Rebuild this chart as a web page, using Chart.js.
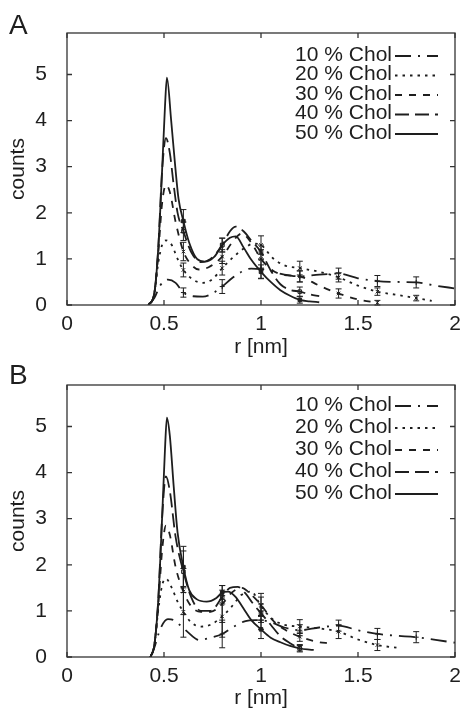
<!DOCTYPE html>
<html>
<head>
<meta charset="utf-8">
<script src="https://cdn.jsdelivr.net/npm/chart.js@4.4.1/dist/chart.umd.min.js"></script>
<style>
  html, body { margin: 0; padding: 0; background: #fff; }
  #wrap { position: relative; width: 460px; height: 708px; overflow: hidden; }
  canvas { position: absolute; left: 0; }
</style>
</head>
<body>
<div id="wrap">
  <canvas id="chartA" width="460" height="370" style="top:0"></canvas>
  <canvas id="chartB" width="460" height="354" style="top:354px"></canvas>
</div>
<script>
// tick labels and series names
var xTicks = [0, 0.5, 1, 1.5, 2];
var yTicks = [0, 1, 2, 3, 4, 5];
var seriesNames = ['10 % Chol', '20 % Chol', '30 % Chol', '40 % Chol', '50 % Chol'];

// ---- panel A : r [nm] / counts ----
var rA10 = [0.42,0.45,0.48,0.52,0.56,0.60,0.65,0.70,0.75,0.80,0.85,0.90,0.95,1.00,1.06,1.12,1.20,1.30,1.40,1.50,1.60,1.70,1.80,1.90,2.00];
var gA10 = [0,0.15,0.42,0.55,0.48,0.27,0.19,0.18,0.25,0.40,0.58,0.72,0.79,0.78,0.72,0.66,0.62,0.66,0.68,0.58,0.52,0.50,0.49,0.42,0.36];
var rA20 = [0.42,0.45,0.47,0.49,0.51,0.54,0.57,0.60,0.65,0.70,0.75,0.80,0.86,0.92,0.96,1.00,1.06,1.12,1.20,1.30,1.40,1.50,1.60,1.70,1.80,1.88];
var gA20 = [0,0.25,0.9,1.3,1.4,1.3,1.0,0.76,0.55,0.48,0.56,0.80,1.05,1.25,1.33,1.30,1.02,0.86,0.80,0.72,0.60,0.42,0.29,0.22,0.15,0.09];
var rA30 = [0.42,0.45,0.47,0.49,0.51,0.53,0.56,0.60,0.64,0.68,0.73,0.80,0.85,0.90,0.95,1.00,1.06,1.12,1.20,1.30,1.40,1.50,1.60];
var gA30 = [0,0.25,1.1,2.2,2.6,2.45,1.8,1.16,0.88,0.77,0.82,1.05,1.35,1.55,1.35,1.0,0.75,0.65,0.62,0.42,0.25,0.12,0.05];
var rA40 = [0.42,0.45,0.47,0.49,0.51,0.53,0.55,0.57,0.60,0.64,0.69,0.74,0.80,0.84,0.87,0.91,0.95,1.00,1.05,1.10,1.15,1.20,1.25,1.30];
var gA40 = [0,0.25,1.2,2.9,3.62,3.3,2.6,2.0,1.6,1.15,0.93,1.0,1.3,1.6,1.7,1.6,1.4,1.15,0.75,0.45,0.33,0.29,0.23,0.19];
var rA50 = [0.42,0.45,0.47,0.49,0.505,0.515,0.537,0.558,0.575,0.60,0.63,0.67,0.71,0.76,0.80,0.84,0.87,0.91,0.95,1.00,1.05,1.10,1.15,1.20,1.25,1.30];
var gA50 = [0,0.25,1.2,2.9,4.3,4.93,4.0,3.0,2.3,1.82,1.35,1.0,0.94,1.05,1.3,1.46,1.49,1.25,0.98,0.72,0.5,0.32,0.2,0.11,0.08,0.06];
// error bars A (positions, half heights)
var ebA10x = [0.6,0.8,1.0,1.2,1.4,1.6,1.8],  ebA10e = [0.1,0.15,0.2,0.12,0.12,0.12,0.12];
var ebA20x = [0.6,0.8,1.0,1.2,1.4,1.6,1.8],  ebA20e = [0.15,0.15,0.2,0.15,0.1,0.08,0.06];
var ebA30x = [0.6,0.8,1.0,1.2,1.4,1.6],      ebA30e = [0.2,0.15,0.2,0.12,0.1,0.05];
var ebA40x = [0.6,0.8,1.0,1.2],              ebA40e = [0.2,0.15,0.15,0.1];
var ebA50x = [0.6,0.8,1.0,1.2],              ebA50e = [0.25,0.15,0.15,0.07];

// ---- panel B ----
var rB10 = [0.43,0.45,0.48,0.52,0.55,0.58,0.62,0.68,0.74,0.80,0.86,0.92,0.97,1.00,1.06,1.12,1.20,1.30,1.40,1.50,1.60,1.70,1.80,1.90,2.00];
var gB10 = [0,0.2,0.6,0.82,0.8,0.7,0.55,0.37,0.42,0.5,0.66,0.78,0.8,0.8,0.74,0.64,0.58,0.64,0.68,0.58,0.5,0.46,0.43,0.37,0.31];
var rB20 = [0.43,0.45,0.47,0.49,0.51,0.54,0.57,0.60,0.64,0.69,0.74,0.80,0.85,0.90,0.95,1.00,1.06,1.12,1.20,1.30,1.40,1.50,1.60,1.70];
var gB20 = [0,0.25,1.0,1.55,1.7,1.5,1.2,0.98,0.75,0.66,0.7,0.88,1.1,1.35,1.42,1.1,0.82,0.7,0.66,0.62,0.55,0.38,0.26,0.2];
var rB30 = [0.43,0.45,0.47,0.49,0.51,0.53,0.56,0.60,0.64,0.69,0.74,0.80,0.85,0.90,0.95,1.00,1.06,1.12,1.20,1.30,1.35];
var gB30 = [0,0.25,1.1,2.3,2.85,2.65,1.95,1.42,1.1,0.98,0.98,1.15,1.4,1.5,1.35,1.13,0.8,0.6,0.44,0.32,0.3];
var rB40 = [0.43,0.45,0.47,0.49,0.51,0.53,0.56,0.60,0.64,0.69,0.74,0.80,0.84,0.88,0.92,0.96,1.00,1.05,1.10,1.15,1.20,1.25,1.30];
var gB40 = [0,0.25,1.2,3.0,3.92,3.6,2.6,1.85,1.3,1.0,1.0,1.3,1.5,1.52,1.38,1.15,0.95,0.7,0.45,0.3,0.19,0.16,0.15];
var rB50 = [0.43,0.45,0.47,0.49,0.505,0.515,0.53,0.55,0.57,0.60,0.63,0.67,0.72,0.77,0.80,0.83,0.87,0.91,0.95,1.00,1.05,1.10,1.15,1.20];
var gB50 = [0,0.25,1.2,3.0,4.5,5.19,4.8,3.7,2.7,1.95,1.45,1.25,1.2,1.28,1.4,1.42,1.3,1.05,0.8,0.6,0.42,0.32,0.24,0.19];
var ebB10x = [0.8,1.0,1.2,1.4,1.6,1.8],  ebB10e = [0.3,0.2,0.12,0.12,0.12,0.12];
var ebB20x = [0.6,0.8,1.0,1.2,1.4,1.6],  ebB20e = [0.55,0.45,0.2,0.15,0.15,0.12];
var ebB30x = [0.6,0.8,1.0,1.2],          ebB30e = [0.5,0.4,0.25,0.1];
var ebB40x = [0.6,0.8,1.0,1.2],          ebB40e = [0.45,0.15,0.2,0.08];
var ebB50x = [0.6,0.8,1.0,1.2],          ebB50e = [0.45,0.15,0.2,0.06];

var FONT = "'Liberation Sans', Arial, sans-serif";
var INK = '#1e1e1e';
var dashes = [[16, 7, 2, 7], [2.5, 5], [7, 7], [14, 6], []];
var markers = ['cross', 'crossRot', 'crossRot', 'rect', 'rect'];

function pts(r, g) {
  return r.map(function (x, i) { return {x: x, y: g[i]}; });
}
function ebPts(ex, ee, r, g) {
  return ex.map(function (x, i) { return {x: x, y: g[r.indexOf(x)], e: ee[i]}; });
}

// frame, inward ticks, error bar whiskers, legend, panel letter
var decor = {
  id: 'decor',
  afterDatasetsDraw: function (chart) {
    var ctx = chart.ctx, a = chart.chartArea;
    var xs = chart.scales.x, ys = chart.scales.y;
    var o = chart.options.plugins.decor;
    ctx.save();
    ctx.strokeStyle = INK;
    // error bars
    ctx.lineWidth = 1;
    chart.data.datasets.forEach(function (ds, di) {
      if (!ds.errorBars || !chart.isDatasetVisible(di)) return;
      ds.data.forEach(function (p) {
        var px = xs.getPixelForValue(p.x);
        var y1 = ys.getPixelForValue(p.y - p.e), y2 = ys.getPixelForValue(p.y + p.e);
        ctx.beginPath();
        ctx.moveTo(px, y1); ctx.lineTo(px, y2);
        ctx.moveTo(px - 3, y1); ctx.lineTo(px + 3, y1);
        ctx.moveTo(px - 3, y2); ctx.lineTo(px + 3, y2);
        ctx.stroke();
      });
    });
    // frame
    ctx.lineWidth = 1.3;
    ctx.strokeStyle = '#333';
    ctx.strokeRect(a.left, a.top, a.right - a.left, a.bottom - a.top);
    ctx.beginPath();
    xTicks.forEach(function (v) {
      var px = xs.getPixelForValue(v);
      ctx.moveTo(px, a.bottom); ctx.lineTo(px, a.bottom - 5);
      ctx.moveTo(px, a.top); ctx.lineTo(px, a.top + 5);
    });
    yTicks.forEach(function (v) {
      var py = ys.getPixelForValue(v);
      ctx.moveTo(a.left, py); ctx.lineTo(a.left + 5, py);
      ctx.moveTo(a.right, py); ctx.lineTo(a.right - 5, py);
    });
    ctx.stroke();
    // legend
    ctx.font = '21px ' + FONT;
    ctx.fillStyle = INK;
    ctx.textAlign = 'right';
    ctx.textBaseline = 'middle';
    ctx.strokeStyle = INK;
    ctx.lineWidth = 1.8;
    seriesNames.forEach(function (name, i) {
      var y = o.legendTop + i * o.legendStep;
      ctx.fillText(name, o.legendRight, y);
      ctx.setLineDash(dashes[i]);
      ctx.beginPath();
      ctx.moveTo(o.legendRight + 3, y + 1);
      ctx.lineTo(o.legendRight + 46, y + 1);
      ctx.stroke();
    });
    ctx.setLineDash([]);
    // panel letter
    ctx.font = '28px ' + FONT;
    ctx.textAlign = 'left';
    ctx.textBaseline = 'alphabetic';
    ctx.fillText(o.letter, 9, o.letterY);
    ctx.restore();
  }
};

function makeChart(id, curves, bars, o) {
  var datasets = [];
  curves.forEach(function (c, i) {
    datasets.push({
      type: 'line',
      label: seriesNames[i],
      data: pts(c[0], c[1]),
      borderColor: INK,
      borderWidth: 1.8,
      borderDash: dashes[i],
      pointRadius: 0,
      fill: false,
      cubicInterpolationMode: 'monotone'
    });
  });
  bars.forEach(function (b, i) {
    datasets.push({
      type: 'scatter',
      label: seriesNames[i] + ' err',
      errorBars: true,
      data: ebPts(b[0], b[1], curves[i][0], curves[i][1]),
      pointStyle: markers[i],
      pointRadius: 2.5,
      borderColor: INK,
      backgroundColor: i === 3 ? '#fff' : INK,
      borderWidth: 1
    });
  });
  return new Chart(document.getElementById(id), {
    type: 'line',
    data: {datasets: datasets},
    plugins: [decor],
    options: {
      responsive: false,
      animation: false,
      layout: {padding: {top: o.top, right: 5, left: 0, bottom: 0}},
      plugins: {
        legend: {display: false},
        tooltip: {enabled: false},
        decor: o
      },
      scales: {
        x: {
          type: 'linear', min: 0, max: 2,
          afterBuildTicks: function (s) { s.ticks = xTicks.map(function (v) { return {value: v}; }); },
          afterFit: function (s) { s.height = o.xHeight; },
          grid: {display: false},
          border: {display: false},
          ticks: {
            padding: -1.5, color: INK, font: {family: FONT, size: 21}, maxRotation: 0,
            callback: function (v) { return String(v); }
          },
          title: {display: true, text: 'r [nm]', color: INK, font: {family: FONT, size: 21},
                  padding: {top: 0, bottom: o.titlePad}}
        },
        y: {
          type: 'linear', min: 0, max: 5.9,
          afterBuildTicks: function (s) { s.ticks = yTicks.map(function (v) { return {value: v}; }); },
          afterFit: function (s) { s.width = 67; },
          grid: {display: false},
          border: {display: false},
          ticks: {padding: 12, color: INK, font: {family: FONT, size: 21}},
          title: {display: true, text: 'counts', color: INK, font: {family: FONT, size: 21},
                  padding: {top: 6, bottom: 0}}
        }
      }
    }
  });
}

makeChart('chartA',
  [[rA10, gA10], [rA20, gA20], [rA30, gA30], [rA40, gA40], [rA50, gA50]],
  [[ebA10x, ebA10e], [ebA20x, ebA20e], [ebA30x, ebA30e], [ebA40x, ebA40e], [ebA50x, ebA50e]],
  {top: 33, xHeight: 65, titlePad: 10.4, letter: 'A', letterY: 34,
   legendRight: 392, legendTop: 55, legendStep: 19.5});

makeChart('chartB',
  [[rB10, gB10], [rB20, gB20], [rB30, gB30], [rB40, gB40], [rB50, gB50]],
  [[ebB10x, ebB10e], [ebB20x, ebB20e], [ebB30x, ebB30e], [ebB40x, ebB40e], [ebB50x, ebB50e]],
  {top: 31, xHeight: 51, titlePad: -2.6, letter: 'B', letterY: 30,
   legendRight: 392, legendTop: 51, legendStep: 22});
</script>
</body>
</html>
